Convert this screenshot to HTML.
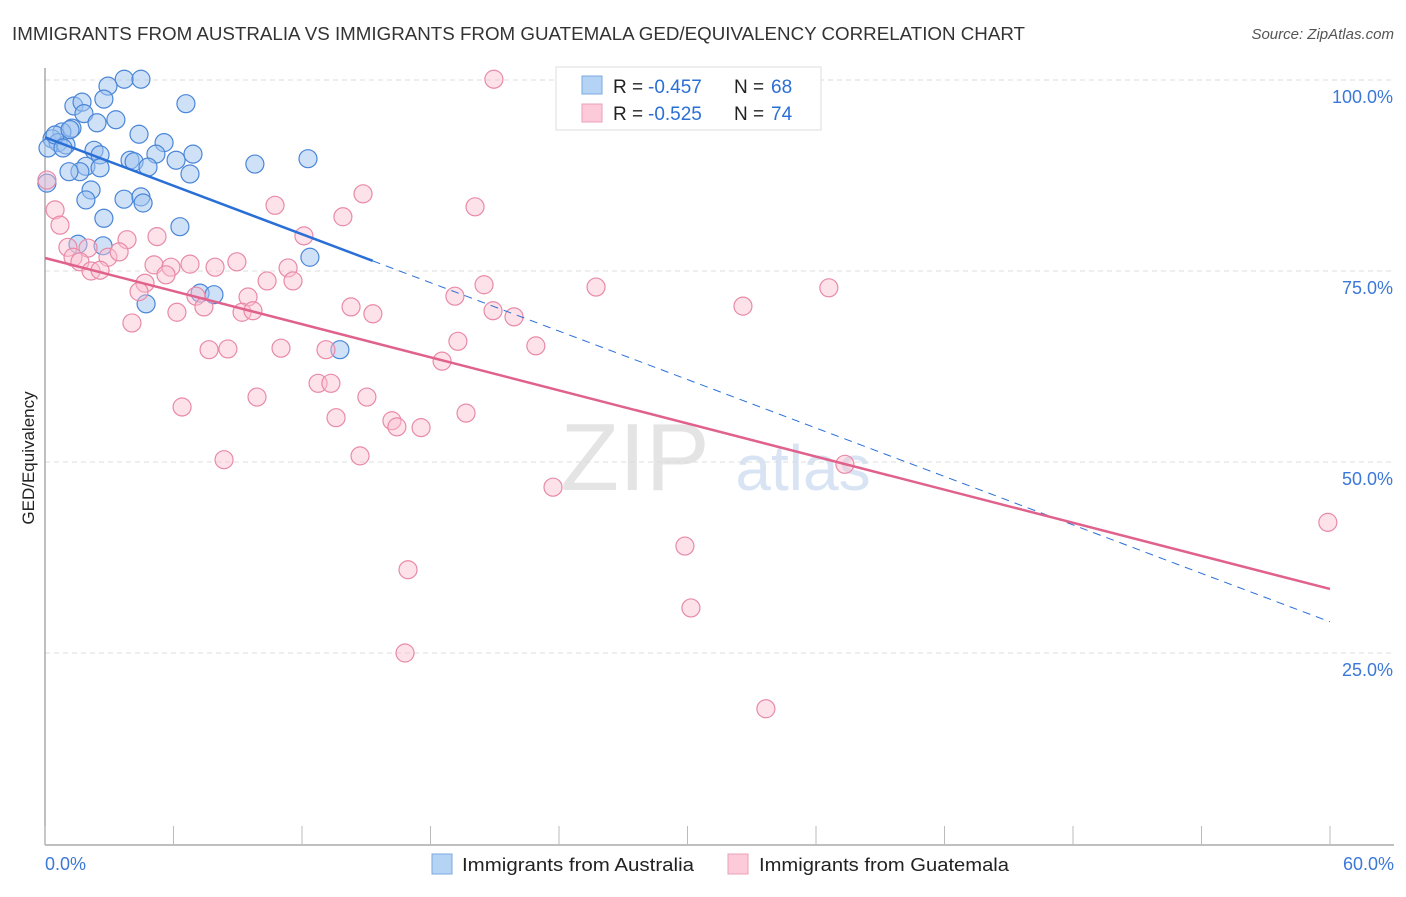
<!DOCTYPE html>
<html><head><meta charset="utf-8"><style>
body{margin:0;background:#fff;font-family:"Liberation Sans",sans-serif}
svg text{font-family:"Liberation Sans",sans-serif}
</style></head><body>
<svg id="c" width="1406" height="892">
<text x="12" y="40" font-size="18" fill="#333" textLength="1013" lengthAdjust="spacingAndGlyphs">IMMIGRANTS FROM AUSTRALIA VS IMMIGRANTS FROM GUATEMALA GED/EQUIVALENCY CORRELATION CHART</text>
<text x="1394" y="39" font-size="15" fill="#555" font-style="italic" text-anchor="end">Source: ZipAtlas.com</text>
<text x="0" y="0" transform="translate(34,458) rotate(-90)" font-size="17" fill="#222" text-anchor="middle">GED/Equivalency</text>
<text x="635" y="490" font-size="96" fill="#e4e4e4" font-family="Liberation Serif" text-anchor="middle">ZIP</text>
<text x="803" y="490" font-size="64" fill="#d8e4f4" text-anchor="middle">atlas</text>
<g id="grid"></g><g id="pts"></g><g id="trend"></g>
<g>
<rect x="556" y="67" width="265" height="63" fill="#fff" stroke="#ddd"/>
<rect x="582" y="76" width="20" height="18" fill="#b5d3f5" stroke="#7aa8e0"/>
<text x="613" y="93" font-size="19" fill="#222">R =</text>
<text x="648" y="93" font-size="19" fill="#2a6fd6">-0.457</text>
<text x="734" y="93" font-size="19" fill="#222">N =</text>
<text x="771" y="93" font-size="19" fill="#2a6fd6">68</text>
<rect x="582" y="104" width="20" height="18" fill="#fccad8" stroke="#eaa0b6"/>
<text x="613" y="120" font-size="19" fill="#222">R =</text>
<text x="648" y="120" font-size="19" fill="#2a6fd6">-0.525</text>
<text x="734" y="120" font-size="19" fill="#222">N =</text>
<text x="771" y="120" font-size="19" fill="#2a6fd6">74</text>
</g>
<g>
<rect x="432" y="854" width="20" height="20" fill="#b5d3f5" stroke="#7aa8e0"/>
<text x="462" y="871" font-size="18" fill="#222" textLength="232" lengthAdjust="spacingAndGlyphs">Immigrants from Australia</text>
<rect x="728" y="854" width="20" height="20" fill="#fccad8" stroke="#eaa0b6"/>
<text x="759" y="871" font-size="18" fill="#222" textLength="250" lengthAdjust="spacingAndGlyphs">Immigrants from Guatemala</text>
</g>
</svg>
<script>
const xTicks=[0,6,12,18,24,30,36,42,48,54,60];
const yTicks=[25,50,75,100];
const blueX=[3.7,4.48,2.94,1.35,1.73,6.58,2.75,1.82,3.31,2.43,1.26,0.79,0.33,0.61,0.14,0.98,4.39,5.56,2.29,2.57,3.97,5.18,6.12,6.91,4.16,4.81,9.8,12.28,1.91,1.63,1.12,2.57,6.77,0.09,2.15,1.91,3.69,4.48,4.58,2.75,6.3,1.54,2.71,12.37,7.24,7.89,4.72,13.77,0.47,0.84,1.17];
const blueY=[100.1,100.1,99.2,96.6,97.1,96.9,97.5,95.6,94.8,94.4,93.7,93.2,92.3,91.8,91.1,91.5,92.9,91.8,90.8,90.2,89.5,90.3,89.5,90.3,89.3,88.6,89.0,89.7,88.7,88.0,88.0,88.5,87.7,86.5,85.6,84.3,84.4,84.7,83.9,81.9,80.8,78.5,78.3,76.8,72.1,71.9,70.7,64.7,92.8,91.1,93.5];
const pinkX=[20.96,0.09,0.47,0.7,14.85,10.74,20.08,13.91,12.09,3.83,5.23,2.01,1.07,1.31,1.63,2.94,3.46,2.15,2.57,5.09,5.88,6.77,7.94,8.96,4.67,4.39,5.65,7.05,10.37,11.35,11.58,20.5,25.73,36.6,9.48,19.14,14.29,20.92,21.9,32.59,6.16,7.42,9.2,9.71,15.31,4.06,19.28,22.92,7.66,8.54,11.02,13.12,18.54,12.75,13.35,9.9,15.03,6.4,19.66,13.59,16.2,16.43,17.56,14.71,8.36,23.72,37.35,59.9,29.88,16.95,30.16,16.81,33.66];
const pinkY=[100.1,86.9,83.0,81.0,85.1,83.6,83.4,82.1,79.6,79.1,79.5,78.0,78.1,76.8,76.2,76.8,77.5,75.0,75.1,75.8,75.5,75.9,75.5,76.2,73.4,72.3,74.5,71.7,73.7,75.4,73.7,73.2,72.9,72.8,71.6,71.7,70.3,69.8,69.0,70.4,69.6,70.3,69.6,69.8,69.4,68.2,65.8,65.2,64.7,64.8,64.9,64.7,63.2,60.3,60.3,58.5,58.5,57.2,56.4,55.8,55.4,54.6,54.5,50.8,50.3,46.7,49.7,42.1,39.0,35.9,30.9,25.0,17.7];
const blueTrend=[92.5,-1.057,15.3];
const pinkTrend=[76.7,-0.722];
const X=v=>45+v/60*1285, Y=v=>844-v/25*191;
const NS='http://www.w3.org/2000/svg';
function mk(t,a,p){const e=document.createElementNS(NS,t);for(const k in a)e.setAttribute(k,a[k]);p.appendChild(e);return e;}
const g=document.getElementById('grid'),P=document.getElementById('pts'),T=document.getElementById('trend');
yTicks.forEach(v=>{const l=mk('line',{x1:45,x2:1394,y1:Y(v),y2:Y(v),stroke:'#ddd','stroke-dasharray':'5,4'},g);


const t=mk('text',{x:1393,y:Y(v)+23,'font-size':18,fill:'#3b78d8','text-anchor':'end'},g);t.textContent=v.toFixed(1)+'%';

});
const ax=mk('line',{x1:45,x2:1394,y1:845,y2:845,stroke:'#aaa','stroke-width':1.5},g);


const ay=mk('line',{x1:45,x2:45,y1:68,y2:845,stroke:'#aaa','stroke-width':1.5},g);


xTicks.forEach(v=>{const l=mk('line',{x1:X(v),x2:X(v),y1:826,y2:845,stroke:'#bbb'},g);

});
[[0,'start'],[60,'end']].forEach(([v,a])=>{const t=mk('text',{x:v?1394:45,y:870,'font-size':18,fill:'#3b78d8','text-anchor':a},g);t.textContent=v.toFixed(1)+'%';

});
blueX.forEach((x,i)=>{const c=mk('circle',{cx:X(x),cy:Y(blueY[i]),r:9,fill:'rgba(160,196,240,0.5)',stroke:'#4a86d8','stroke-width':1.2},P);

});
pinkX.forEach((x,i)=>{const c=mk('circle',{cx:X(x),cy:Y(pinkY[i]),r:9,fill:'rgba(250,190,208,0.45)',stroke:'#e88aa8','stroke-width':1.2},P);

});
const bs=mk('line',{x1:X(0),y1:Y(blueTrend[0]),x2:X(blueTrend[2]),y2:Y(blueTrend[0]+blueTrend[1]*blueTrend[2]),stroke:'#2a6fd6','stroke-width':2.5},T);


const bd=mk('line',{x1:X(blueTrend[2]),y1:Y(blueTrend[0]+blueTrend[1]*blueTrend[2]),x2:X(60),y2:Y(blueTrend[0]+blueTrend[1]*60),stroke:'#2a6fd6','stroke-width':1,'stroke-dasharray':'8,6'},T);


const pl=mk('line',{x1:X(0),y1:Y(pinkTrend[0]),x2:X(60),y2:Y(pinkTrend[0]+pinkTrend[1]*60),stroke:'#e0628c','stroke-width':2.5},T);


</script>
</body></html>
